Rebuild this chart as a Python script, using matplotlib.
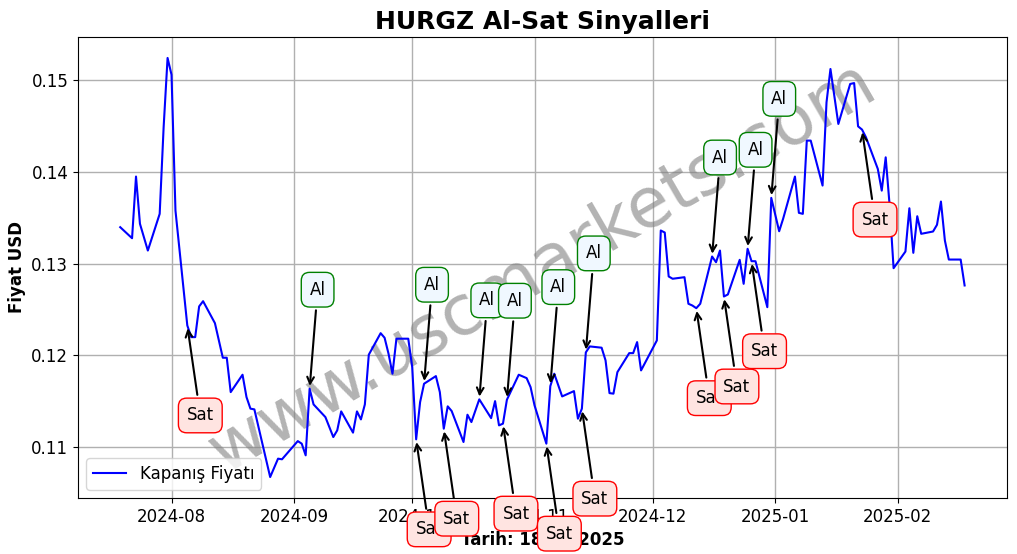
# ---   IMPORTS   --- #
# ------------------- #
import numpy as np
import pandas as pd
import matplotlib
matplotlib.use('Agg')
import matplotlib.pyplot as plt
import matplotlib.dates as mdates


# ---   SPECIFICATION   --- #
# ------------------------- #
TICKER = 'HURGZ'
REPORT_DATE = '18.02.2025'

# Closing prices (trading days)
DATES = [
    '2024-07-19', '2024-07-22', '2024-07-23', '2024-07-24', '2024-07-26',
    '2024-07-29', '2024-07-30', '2024-07-31', '2024-08-01', '2024-08-02',
    '2024-08-05', '2024-08-06', '2024-08-07', '2024-08-08', '2024-08-09',
    '2024-08-12', '2024-08-14', '2024-08-15', '2024-08-16', '2024-08-19',
    '2024-08-20', '2024-08-21', '2024-08-22', '2024-08-26', '2024-08-28',
    '2024-08-29', '2024-09-02', '2024-09-03', '2024-09-04', '2024-09-05',
    '2024-09-06', '2024-09-09', '2024-09-11', '2024-09-12', '2024-09-13',
    '2024-09-16', '2024-09-17', '2024-09-18', '2024-09-19', '2024-09-20',
    '2024-09-23', '2024-09-24', '2024-09-25', '2024-09-26', '2024-09-27',
    '2024-09-30', '2024-10-01', '2024-10-02', '2024-10-03', '2024-10-04',
    '2024-10-07', '2024-10-08', '2024-10-09', '2024-10-10', '2024-10-11',
    '2024-10-14', '2024-10-15', '2024-10-16', '2024-10-18', '2024-10-21',
    '2024-10-22', '2024-10-23', '2024-10-24', '2024-10-25', '2024-10-28',
    '2024-10-30', '2024-10-31', '2024-11-01', '2024-11-04', '2024-11-05',
    '2024-11-06', '2024-11-08', '2024-11-11', '2024-11-12', '2024-11-13',
    '2024-11-14', '2024-11-15', '2024-11-18', '2024-11-19', '2024-11-20',
    '2024-11-21', '2024-11-22', '2024-11-25', '2024-11-26', '2024-11-27',
    '2024-11-28', '2024-12-02', '2024-12-03', '2024-12-04', '2024-12-05',
    '2024-12-06', '2024-12-09', '2024-12-10', '2024-12-11', '2024-12-12',
    '2024-12-13', '2024-12-16', '2024-12-17', '2024-12-18', '2024-12-19',
    '2024-12-20', '2024-12-23', '2024-12-24', '2024-12-25', '2024-12-26',
    '2024-12-27', '2024-12-30', '2024-12-31', '2025-01-02', '2025-01-03',
    '2025-01-06', '2025-01-07', '2025-01-08', '2025-01-09', '2025-01-10',
    '2025-01-13', '2025-01-14', '2025-01-15', '2025-01-17', '2025-01-20',
    '2025-01-21', '2025-01-22', '2025-01-23', '2025-01-24', '2025-01-27',
    '2025-01-28', '2025-01-29', '2025-01-30', '2025-01-31', '2025-02-03',
    '2025-02-04', '2025-02-05', '2025-02-06', '2025-02-07', '2025-02-10',
    '2025-02-11', '2025-02-12', '2025-02-13', '2025-02-14', '2025-02-17',
    '2025-02-18'
]

PRICES = [
    0.13395, 0.13275, 0.13946, 0.13432, 0.13141,
    0.13540, 0.14482, 0.15236, 0.15054, 0.13576,
    0.12326, 0.12199, 0.12199, 0.12533, 0.12590,
    0.12351, 0.11975, 0.11975, 0.11601, 0.11790,
    0.11547, 0.11421, 0.11413, 0.10677, 0.10877,
    0.10870, 0.11068, 0.11040, 0.10913, 0.11638,
    0.11467, 0.11329, 0.11112, 0.11185, 0.11391,
    0.11160, 0.11391, 0.11304, 0.11467, 0.12008,
    0.12242, 0.12192, 0.12018, 0.11801, 0.12182,
    0.12182, 0.11873, 0.11087, 0.11492, 0.11692,
    0.11775, 0.11601, 0.11203, 0.11446, 0.11395,
    0.11058, 0.11355, 0.11275, 0.11522, 0.11318,
    0.11503, 0.11239, 0.11258, 0.11518, 0.11790,
    0.11753, 0.11655, 0.11457, 0.11040, 0.11666,
    0.11801, 0.11554, 0.11612, 0.11312, 0.11421,
    0.12033, 0.12098, 0.12084, 0.11946, 0.11590,
    0.11584, 0.11818, 0.12025, 0.12025, 0.12145,
    0.11837, 0.12163, 0.13359, 0.13337, 0.12859,
    0.12834, 0.12851, 0.12562, 0.12543, 0.12514,
    0.12562, 0.13076, 0.13014, 0.13141, 0.12641,
    0.12663, 0.13040, 0.12779, 0.13160, 0.13025,
    0.13025, 0.12525, 0.13714, 0.13351, 0.13486,
    0.13946, 0.13551, 0.13540, 0.14337, 0.14337,
    0.13848, 0.14753, 0.15116, 0.14518, 0.14953,
    0.14963, 0.14492, 0.14457, 0.14373, 0.14029,
    0.13793, 0.14155, 0.13630, 0.12949, 0.13130,
    0.13601, 0.13116, 0.13514, 0.13323, 0.13348,
    0.13421, 0.13674, 0.13250, 0.13043, 0.13043,
    0.12761
]

# Signal dates
BUY_DATES = [
    '2024-09-05', '2024-10-04', '2024-10-18', '2024-10-25', '2024-11-05',
    '2024-11-14', '2024-12-16', '2024-12-25', '2024-12-31'
]
SELL_DATES = [
    '2024-08-05', '2024-10-02', '2024-10-09', '2024-10-24', '2024-11-04',
    '2024-11-13', '2024-12-12', '2024-12-19', '2024-12-26', '2025-01-23'
]


# ---   METHODS   --- #
# ------------------- #
def graph(dates, prices):
    fig = plt.figure(figsize=(10.17, 5.54), dpi=100)
    ax = fig.add_subplot(1, 1, 1)
    fig.subplots_adjust(left=0.0767, right=0.990, top=0.9332, bottom=0.1011)
    # Closing prices
    ax.plot(dates, prices, color='blue', lw=1.5, label='Kapanış Fiyatı',
            zorder=3)
    # Signals
    lookup = dict(zip(dates, prices))
    for d in pd.to_datetime(BUY_DATES):
        ax.annotate(
            'Al', xy=(d, lookup[d]), xytext=(8, 99),
            textcoords='offset pixels', ha='center', va='center',
            fontsize=12, zorder=5,
            bbox=dict(boxstyle='round,pad=0.5', fc='#f0f8ff', ec='green'),
            arrowprops=dict(arrowstyle='->', color='black', lw=1.5)
        )
    for d in pd.to_datetime(SELL_DATES):
        ax.annotate(
            'Sat', xy=(d, lookup[d]), xytext=(13, -90),
            textcoords='offset pixels', ha='center', va='center',
            fontsize=12, zorder=5, annotation_clip=False,
            bbox=dict(boxstyle='round,pad=0.5', fc='#ffe4e1', ec='red'),
            arrowprops=dict(arrowstyle='->', color='black', lw=1.5)
        )
    # Watermark
    ax.text(0.5, 0.5, 'www.uscmarkets.com', transform=ax.transAxes,
            fontsize=50, color='gray', alpha=0.6, rotation=30,
            ha='center', va='center', zorder=2)
    # Format axes
    ax.set_title(f'{TICKER} Al-Sat Sinyalleri', fontsize=18,
                 fontweight='bold')
    ax.set_xlabel(f'Tarih: {REPORT_DATE}', fontsize=12, fontweight='bold')
    ax.set_ylabel('Fiyat USD', fontsize=12, fontweight='bold')
    ax.xaxis.set_major_locator(mdates.MonthLocator())
    ax.xaxis.set_major_formatter(mdates.DateFormatter('%Y-%m'))
    ax.tick_params(axis='both', labelsize=12)
    ax.grid(True, color='#b0b0b0', lw=1)
    ax.legend(loc='lower left', fontsize=12)
    fig.savefig('out.png', dpi=100)


# ---     MAIN     --- #
# -------------------- #
if __name__ == '__main__':
    graph(pd.to_datetime(DATES), np.array(PRICES))
